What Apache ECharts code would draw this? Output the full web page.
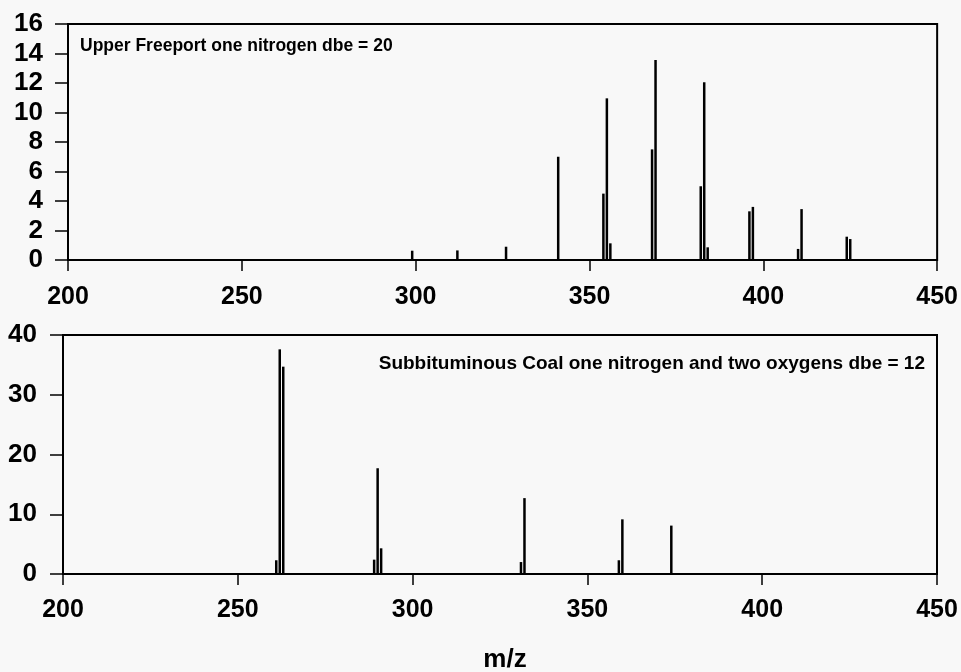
<!DOCTYPE html>
<html>
<head>
<meta charset="utf-8">
<script src="https://cdn.jsdelivr.net/npm/echarts@6/dist/echarts.min.js"></script>
<style>
  html, body { margin: 0; padding: 0; background: #f8f8f8; }
  #chart { width: 961px; height: 672px; }
</style>
</head>
<body>
<div id="chart"></div>
<script>
// 上图: Upper Freeport one nitrogen dbe = 20
const topMz = [299, 312, 326, 341, 354, 355, 356, 368, 369, 382, 383, 384, 396, 397, 410, 411, 424, 425];
const topAbund = [0.63, 0.65, 0.9, 7.0, 4.5, 10.96, 1.13, 7.5, 13.56, 5.0, 12.05, 0.86, 3.3, 3.6, 0.75, 3.45, 1.58, 1.42];

// 下图: Subbituminous Coal one nitrogen and two oxygens dbe = 12
const botMz = [261, 262, 263, 289, 290, 291, 331, 332, 359, 360, 374];
const botAbund = [2.3, 37.6, 34.7, 2.4, 17.7, 4.3, 2.0, 12.7, 2.3, 9.15, 8.1];

const xTicks = [200, 250, 300, 350, 400, 450];
const topYTicks = [0, 2, 4, 6, 8, 10, 12, 14, 16];
const botYTicks = [0, 10, 20, 30, 40];

const topTitle = "Upper Freeport one nitrogen dbe = 20";
const botTitle = "Subbituminous Coal one nitrogen and two oxygens dbe = 12";
const xName = "m/z";

const font = "Liberation Sans, Arial, Helvetica, sans-serif";

const myChart = echarts.init(document.querySelector("#chart"));

// 公共的x轴
const makeX = (gridIndex, margin) => ({
  type: "value",
  gridIndex,
  min: xTicks[0],
  max: xTicks[xTicks.length - 1],
  interval: 50,
  axisLine: { show: true, lineStyle: { color: "#000", width: 2 } },
  axisTick: { show: true, inside: false, length: 11, lineStyle: { color: "#000", width: 1.5 } },
  axisLabel: { color: "#000", fontSize: 25, fontWeight: "bold", fontFamily: font, margin },
  splitLine: { show: false },
});

const makeY = (gridIndex, ticks, margin) => ({
  type: "value",
  gridIndex,
  min: ticks[0],
  max: ticks[ticks.length - 1],
  interval: ticks[1] - ticks[0],
  axisLine: { show: true, lineStyle: { color: "#000", width: 2 } },
  axisTick: { show: true, inside: false, length: 13, lineStyle: { color: "#000", width: 1.5 } },
  axisLabel: { color: "#000", fontSize: 26, fontWeight: "bold", fontFamily: font, margin },
  splitLine: { show: false },
});

myChart.setOption({
  backgroundColor: "#f8f8f8",
  animation: false,
  title: [
    {
      text: topTitle,
      left: 75,
      top: 32,
      textStyle: { fontSize: 17.5, fontWeight: "bold", fontFamily: font, color: "#000" },
    },
    {
      text: botTitle,
      right: 31,
      top: 349,
      textStyle: { fontSize: 19, fontWeight: "bold", fontFamily: font, color: "#000" },
    },
    {
      text: xName,
      left: 500,
      top: 642,
      textAlign: "center",
      textStyle: { fontSize: 26, fontWeight: "bold", fontFamily: font, color: "#000" },
    },
  ],
  grid: [
    { left: 68, top: 24, right: 23, height: 236, show: true, borderColor: "#000", borderWidth: 2, backgroundColor: "transparent" },
    { left: 63, top: 335, right: 24, height: 239, show: true, borderColor: "#000", borderWidth: 2, backgroundColor: "transparent" },
  ],
  xAxis: [makeX(0, 25), makeX(1, 24)],
  yAxis: [makeY(0, topYTicks, 25), makeY(1, botYTicks, 26)],
  series: [
    {
      type: "bar",
      xAxisIndex: 0,
      yAxisIndex: 0,
      barWidth: 2.5,
      itemStyle: { color: "#000" },
      data: topMz.map((m, i) => [m, topAbund[i]]),
    },
    {
      type: "bar",
      xAxisIndex: 1,
      yAxisIndex: 1,
      barWidth: 2.5,
      itemStyle: { color: "#000" },
      data: botMz.map((m, i) => [m, botAbund[i]]),
    },
  ],
});
</script>
</body>
</html>
